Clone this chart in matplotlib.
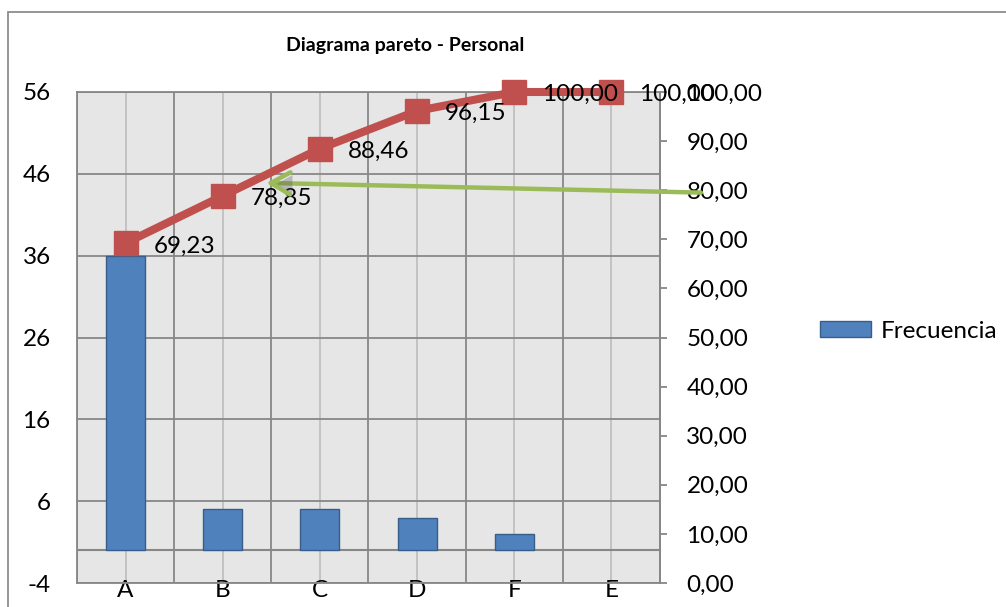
import matplotlib
matplotlib.use('Agg')
import matplotlib.pyplot as plt
import matplotlib.patches as mpatches
import matplotlib.patheffects as pe
import numpy as np

# ---------- Data ----------
categories = ['A', 'B', 'C', 'D', 'F', 'E']
frecuencia = [36, 5, 5, 4, 2, 0]
acumulado = [69.23, 78.85, 88.46, 96.15, 100.00, 100.00]
left_ticks = [-4, 6, 16, 26, 36, 46, 56]
right_ticks = [0, 10, 20, 30, 40, 50, 60, 70, 80, 90, 100]

# ---------- Style ----------
plt.rcParams['font.family'] = ['Lato', 'DejaVu Sans']
plt.rcParams['axes.unicode_minus'] = False
FS = 17.5
BLUE = '#4f81bd'
BLUE_EDGE = '#385d8a'
RED = '#c0504d'
GREEN = '#9bbb59'
DARK_GRID = '#878787'
LIGHT_GRID = '#c0c0c0'


def comma(v):
    return f'{v:.2f}'.replace('.', ',')


fig = plt.figure(figsize=(10.06, 6.07), dpi=100)

# chart frame (extends past right / bottom edge like the screenshot)
frame = mpatches.Rectangle((8 / 1006, -0.2), 1.2, 1.2 - 12 / 607,
                           transform=fig.transFigure, fill=False,
                           edgecolor='#8c8c8c', lw=1.3)
fig.patches.append(frame)

ax = fig.add_axes([77 / 1006, 1 - 583 / 607, (660 - 77) / 1006, (583 - 92) / 607])
ax2 = ax.twinx()

x = np.arange(len(categories))

# ---------- Axes / grid ----------
ax.set_facecolor('#e6e6e6')
ax.set_xlim(-0.5, len(categories) - 0.5)
ax.set_ylim(left_ticks[0], left_ticks[-1])
ax.set_yticks(left_ticks)
ax.set_yticklabels([str(t) for t in left_ticks], fontsize=FS)
ax.tick_params(axis='y', length=0, pad=19)
ax.set_xticks(x)
ax.set_xticklabels(categories, fontsize=FS)
ax.set_xticks(np.arange(len(categories) + 1) - 0.5, minor=True)
ax.tick_params(axis='x', which='both', length=0, pad=-2)
ax.grid(axis='y', color=DARK_GRID, lw=1.3, zorder=0)
ax.grid(axis='x', which='major', color=LIGHT_GRID, lw=1.3, zorder=0)
ax.grid(axis='x', which='minor', color=DARK_GRID, lw=1.3, zorder=0)
ax.set_axisbelow(True)
ax.axhline(0, color=DARK_GRID, lw=1.5, zorder=1)
for s in ax.spines.values():
    s.set_color(DARK_GRID)
    s.set_linewidth(1.3)

# ---------- Bars ----------
ax.bar(x, frecuencia, width=0.4, color=BLUE, edgecolor=BLUE_EDGE,
       linewidth=[1 if v else 0 for v in frecuencia], zorder=2, label='Frecuencia')

# ---------- Cumulative line ----------
ax2.set_ylim(right_ticks[0], right_ticks[-1])
ax2.set_yticks(right_ticks)
ax2.set_yticklabels([comma(t) for t in right_ticks], fontsize=FS)
ax2.tick_params(axis='y', length=5, width=1.3, color=DARK_GRID, pad=14)
for s in ax2.spines.values():
    s.set_visible(False)
ax2.spines['right'].set_visible(True)
ax2.spines['right'].set_color(DARK_GRID)
ax2.spines['right'].set_linewidth(1.3)

ax2.plot(x, acumulado, color=RED, lw=5.8, marker='s', markersize=17,
         markerfacecolor=RED, markeredgecolor=RED, zorder=3, clip_on=False)
for xi, yi in zip(x, acumulado):
    ax2.annotate(comma(yi), (xi, yi), xytext=(20, -2), textcoords='offset points',
                 ha='left', va='center', fontsize=FS, annotation_clip=False)

# hand-drawn green arrow
ax2.annotate('', xy=(1.42, 81.5), xytext=(5.95, 79.5),
             arrowprops=dict(arrowstyle='->,head_length=0.7,head_width=0.4',
                             mutation_scale=20, color=GREEN, lw=3.2,
                             path_effects=[pe.SimplePatchShadow(offset=(1.5, -2), alpha=0.3),
                                           pe.Normal()]),
             annotation_clip=False)

# ---------- Title / legend ----------
fig.text(405 / 1006, 1 - 45 / 607, 'Diagrama pareto - Personal', ha='center',
         va='center', fontsize=14, fontweight='bold')
fig.legend(handles=[mpatches.Patch(facecolor=BLUE, edgecolor=BLUE_EDGE, label='Frecuencia')],
           loc='center left', bbox_to_anchor=(820 / 1006, 1 - 331 / 607),
           frameon=False, fontsize=FS, handlelength=2.1, handleheight=0.6,
           handletextpad=0.38, borderpad=0, borderaxespad=0)

fig.savefig('out.png', dpi=100)
